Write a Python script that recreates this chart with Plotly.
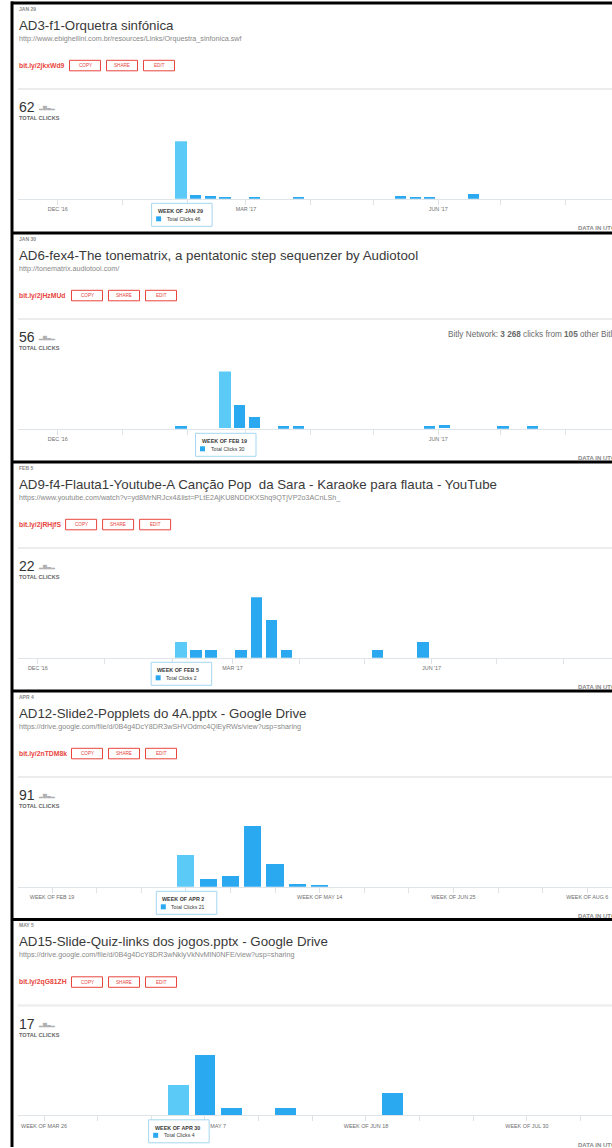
import pandas as pd
import plotly.graph_objects as go

W, H = 612, 1148
FONT = "Liberation Sans, Arial, sans-serif"
RED = "#e8453c"
BLUE = "#2aa9f1"
BLUE_HOVER = "#5ccaf6"

# ---- data ----
created = ["JAN 29", "JAN 30", "FEB 5", "APR 4", "MAY 5"]
titles = [
    "AD3-f1-Orquetra sinfónica",
    "AD6-fex4-The tonematrix, a pentatonic step sequenzer by Audiotool",
    "AD9-f4-Flauta1-Youtube-A Canção Pop  da Sara - Karaoke para flauta - YouTube",
    "AD12-Slide2-Popplets do 4A.pptx - Google Drive",
    "AD15-Slide-Quiz-links dos jogos.pptx - Google Drive",
]
urls = [
    "http://www.ebighellini.com.br/resources/Links/Orquestra_sinfonica.swf",
    "http://tonematrix.audiotool.com/",
    "https://www.youtube.com/watch?v=yd8MrNRJcx4&list=PLtE2AjKU8NDDKXShq9QTjVP2o3ACnLSh_",
    "https://drive.google.com/file/d/0B4g4DcY8DR3wSHVOdmc4QlEyRWs/view?usp=sharing",
    "https://drive.google.com/file/d/0B4g4DcY8DR3wNklyVkNvMlN0NFE/view?usp=sharing",
]
short_links = ["bit.ly/2jkxWd9", "bit.ly/2jHzMUd", "bit.ly/2jRHjfS", "bit.ly/2nTDM8k", "bit.ly/2qG81ZH"]

p1_weeks = ["2017-01-29", "2017-02-05", "2017-02-12", "2017-02-19", "2017-03-05",
            "2017-03-26", "2017-05-14", "2017-05-21", "2017-05-28", "2017-06-18"]
p1_clicks = [46, 3, 2, 1, 1, 1, 2, 1, 1, 4]

p2_weeks = ["2017-01-29", "2017-02-19", "2017-02-26", "2017-03-05", "2017-03-19",
            "2017-03-26", "2017-05-28", "2017-06-04", "2017-07-02", "2017-07-16"]
p2_clicks = [1, 30, 12, 6, 1, 1, 1, 2, 1, 1]

p3_weeks = ["2017-02-05", "2017-02-12", "2017-02-19", "2017-03-05", "2017-03-12",
            "2017-03-19", "2017-03-26", "2017-05-07", "2017-05-28"]
p3_clicks = [2, 1, 1, 1, 8, 5, 1, 1, 2]

p4_weeks = ["2017-04-02", "2017-04-09", "2017-04-16", "2017-04-23", "2017-04-30",
            "2017-05-07", "2017-05-14"]
p4_clicks = [21, 5, 7, 40, 15, 2, 1]

p5_weeks = ["2017-04-30", "2017-05-07", "2017-05-14", "2017-05-28", "2017-06-25"]
p5_clicks = [4, 8, 1, 1, 3]

hover_weeks = ["2017-01-29", "2017-02-19", "2017-02-05", "2017-04-02", "2017-04-30"]

month_ticks = ["2016-12-01", "2017-01-01", "2017-02-01", "2017-03-01", "2017-04-01",
               "2017-05-01", "2017-06-01", "2017-07-01", "2017-08-01", "2017-09-01"]
month_text = ["DEC '16", "", "", "MAR '17", "", "", "JUN '17", "", "", ""]
p4_ticks = ["2017-02-19", "2017-03-05", "2017-03-19", "2017-04-02", "2017-04-16",
            "2017-04-30", "2017-05-14", "2017-05-28", "2017-06-11", "2017-06-25",
            "2017-07-09", "2017-07-23", "2017-08-06"]
p4_text = ["WEEK OF FEB 19", "", "", "WEEK OF APR 2", "", "", "WEEK OF MAY 14",
           "", "", "WEEK OF JUN 25", "", "", "WEEK OF AUG 6"]
p5_ticks = ["2017-03-26", "2017-04-09", "2017-04-23", "2017-05-07", "2017-05-21",
            "2017-06-04", "2017-06-18", "2017-07-02", "2017-07-16", "2017-07-30",
            "2017-08-13"]
p5_text = ["WEEK OF MAR 26", "", "", "WEEK OF MAY 7", "", "", "WEEK OF JUN 18",
           "", "", "WEEK OF JUL 30", ""]

weeks = [p1_weeks, p2_weeks, p3_weeks, p4_weeks, p5_weeks]
clicks = [p1_clicks, p2_clicks, p3_clicks, p4_clicks, p5_clicks]
tick_vals = [month_ticks, month_ticks, month_ticks, p4_ticks, p5_ticks]
tick_text = [month_text, month_text, month_text, p4_text, p5_text]

# ---- screen geometry (pixels) ----
panel_top = [4, 234, 463, 692, 920.5]
anchor_date = ["2016-12-01", "2016-12-01", "2016-12-01", "2017-02-19", "2017-03-26"]
anchor_px = [57.8, 57.8, 37.9, 52, 44]
px_per_day = [2.09, 2.09, 2.163, 3.186, 3.833]
bar_px = [57.6, 57.4, 60.6, 61, 60.6]
copy_x = [69.5, 71.5, 65.6, 71.5, 71.5]
PLOT_LEFT = 18


def fx(x):
    return x / W


def fy(y):
    return 1 - y / H


annotations = []
shapes = []


def label(x, y, text, size, color="#333", xanchor="left"):
    annotations.append(dict(
        x=fx(x), y=fy(y), xref="paper", yref="paper", text=text, showarrow=False,
        xanchor=xanchor, yanchor="middle", borderpad=0,
        font=dict(family=FONT, size=size, color=color)))


fig = go.Figure()
layout_axes = {}

for i in range(5):
    n = i + 1
    T = panel_top[i]
    base = T + 194.8

    # header
    label(PLOT_LEFT, T + 4.8, "<b>" + created[i] + "</b>", 5, "#8a8a8a")
    label(PLOT_LEFT, T + 21.3, titles[i], 13.3, "#3a3a3a")
    label(PLOT_LEFT, T + 34.3, urls[i], 7.2, "#888888")
    label(PLOT_LEFT, T + 61.5, "<b>" + short_links[i] + "</b>", 6.8, RED)
    for j, name in enumerate(["COPY", "SHARE", "EDIT"]):
        x0 = copy_x[i] + j * 37
        shapes.append(dict(type="rect", xref="paper", yref="paper",
                           x0=fx(x0), x1=fx(x0 + 31), y0=fy(T + 56.3), y1=fy(T + 66.8),
                           line=dict(color=RED, width=1), fillcolor="white"))
        label(x0 + 15.5, T + 61.6, name, 4.6, RED, xanchor="center")
    shapes.append(dict(type="line", xref="paper", yref="paper",
                       x0=fx(PLOT_LEFT), x1=1, y0=fy(T + 85), y1=fy(T + 85),
                       line=dict(color="#ececec", width=2)))
    label(PLOT_LEFT, T + 103, str(sum(clicks[i])), 14, "#333")
    label(37, T + 104, "▂▆▃▂", 4.6, "#b0b0b0")
    label(PLOT_LEFT, T + 114.3, "<b>TOTAL CLICKS</b>", 5.6, "#666")
    label(577, T + 224, "<b>DATA IN UTC</b>", 6, "#8a8a8a")
    if i == 1:
        label(447, T + 100.7, "Bitly Network: <b>3 268</b> clicks from <b>105</b> other Bitlinks",
              8.2, "#6a6a6a")

    # chart
    a = pd.Timestamp(anchor_date[i])
    ppd = px_per_day[i]
    start = a - pd.Timedelta(days=(anchor_px[i] - PLOT_LEFT) / ppd)
    end = a + pd.Timedelta(days=(W - anchor_px[i]) / ppd)
    hv = hover_weeks[i]
    colors = [BLUE_HOVER if w == hv else BLUE for w in weeks[i]]
    fig.add_trace(go.Bar(
        x=weeks[i], y=clicks[i], xaxis=f"x{n}", yaxis=f"y{n}",
        width=5.4 * 86400000, marker=dict(color=colors, line=dict(width=0)),
        hovertemplate="Week of %{x}<br>Total Clicks %{y}<extra></extra>"))

    layout_axes[f"xaxis{n}"] = dict(
        type="date", domain=[fx(PLOT_LEFT), 1], anchor=f"y{n}",
        range=[start.strftime("%Y-%m-%d %H:%M:%S"), end.strftime("%Y-%m-%d %H:%M:%S")],
        tickmode="array", tickvals=tick_vals[i], ticktext=tick_text[i],
        ticks="outside", ticklen=5, tickwidth=1, tickcolor="#dde2e7",
        showline=True, linecolor="#dfe4e9", linewidth=1,
        showgrid=False, zeroline=False, fixedrange=True,
        tickfont=dict(family=FONT, size=5.4, color="#6e6e6e"))
    layout_axes[f"yaxis{n}"] = dict(
        domain=[fy(base), fy(base - bar_px[i])], anchor=f"x{n}",
        range=[0, max(clicks[i])], visible=False, fixedrange=True)

    # hover tooltip under the highlighted week (x in data units, y in paper)
    hover_val = clicks[i][weeks[i].index(hv)]
    hts = pd.Timestamp(hv)
    hover_title = f"WEEK OF {hts.strftime('%b').upper()} {hts.day}"

    def xd(dpx):
        return (hts + pd.Timedelta(days=dpx / ppd)).strftime("%Y-%m-%d %H:%M:%S")

    shapes.append(dict(type="rect", xref=f"x{n}", yref="paper",
                       x0=xd(-29.5), x1=xd(31), y0=fy(base + 4.5), y1=fy(base + 27.5),
                       fillcolor="white", line=dict(color="#a6d7f0", width=1), layer="above"))
    shapes.append(dict(type="rect", xref=f"x{n}", yref="paper",
                       x0=xd(-25), x1=xd(-20), y0=fy(base + 17.5), y1=fy(base + 22.5),
                       fillcolor=BLUE, line=dict(width=0), layer="above"))
    annotations.append(dict(x=hv, y=fy(base + 12.5), xref=f"x{n}", yref="paper", showarrow=False,
                            xanchor="left", yanchor="middle", xshift=-25.5,
                            text=f"<b>{hover_title}</b>",
                            font=dict(family=FONT, size=5.4, color="#3a3a3a")))
    annotations.append(dict(x=hv, y=fy(base + 20), xref=f"x{n}", yref="paper", showarrow=False,
                            xanchor="left", yanchor="middle", xshift=-16.5,
                            text=f"Total Clicks {hover_val}",
                            font=dict(family=FONT, size=5.2, color="#3a3a3a")))

# black screenshot frames
for T in panel_top:
    shapes.append(dict(type="line", xref="paper", yref="paper",
                       x0=fx(11), x1=1, y0=fy(T - 1), y1=fy(T - 1),
                       line=dict(color="black", width=3)))
shapes.append(dict(type="line", xref="paper", yref="paper",
                   x0=fx(12), x1=fx(12), y0=fy(panel_top[0] - 2.5), y1=fy(1147),
                   line=dict(color="black", width=3)))

fig.update_layout(
    width=W, height=H,
    margin=dict(l=0, r=0, t=0, b=0),
    paper_bgcolor="white", plot_bgcolor="white",
    showlegend=False, bargap=0,
    font=dict(family=FONT, size=8, color="#333"),
    annotations=annotations, shapes=shapes,
    **layout_axes)

fig.write_html("out.html", config={"displayModeBar": False},
               post_script="document.body.style.margin='0';document.body.style.overflow='hidden';")
